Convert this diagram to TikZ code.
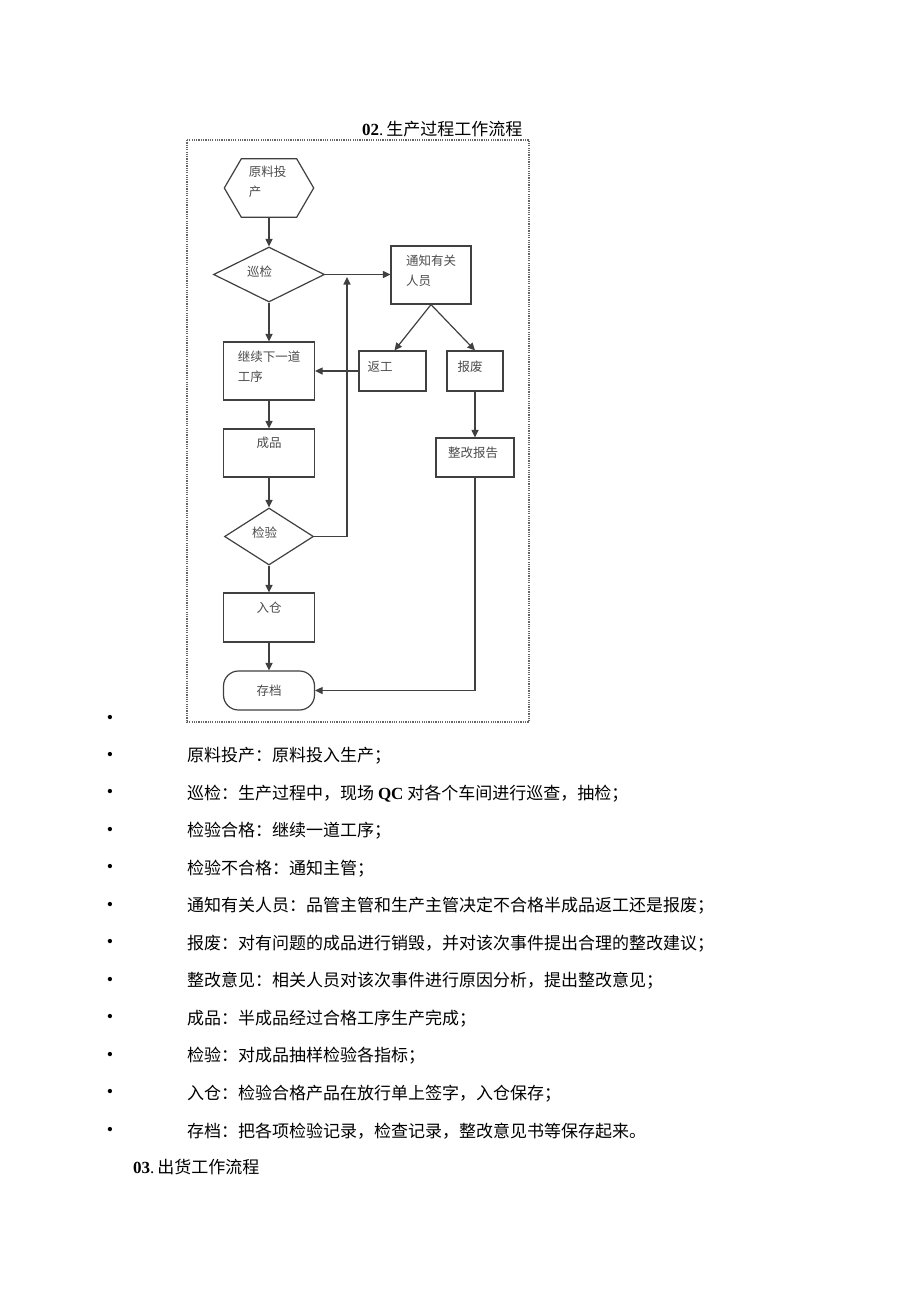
\documentclass[tikz,border=0pt]{standalone}
\usepackage{fontspec}
\setmainfont{Liberation Serif}
\newfontfamily\cjk{Noto Sans CJK SC}
\usetikzlibrary{arrows.meta,shapes.geometric}
\begin{document}
\begin{tikzpicture}[x=1pt,y=-1pt,
  flow/.style={draw=black!75, line width=1.2pt, inner sep=0pt},
  box/.style={flow, rectangle},
  dia/.style={flow, diamond},
  lbl/.style={font=\cjk\fontsize{12.5}{20}\selectfont, text=black!70, align=left, inner sep=0pt},
  conn/.style={draw=black!75, line width=1.2pt, -{Triangle[length=7.5pt,width=7pt]}},
  body/.style={font=\cjk\fontsize{17}{20}\selectfont, anchor=west, inner sep=0pt},
  bul/.style={font=\fontsize{18}{20}\selectfont, inner sep=0pt},
]
\fill[white] (0,0) rectangle (920,1301);
\useasboundingbox (0,0) rectangle (920,1301);

% title
\node[anchor=west, inner sep=0pt, font=\fontsize{17}{20}\selectfont] (title) at (362,129) {\textbf{02}.\,{\cjk 生产过程工作流程}};

% frame
\draw[draw=black!60, line width=2.4pt, dash pattern=on 1.2pt off 1.1pt] (187,140) rectangle (529,722);

% shapes
\node[minimum width=89pt, minimum height=58pt, inner sep=0pt,
      label={[lbl,xshift=-1.5pt,yshift=6pt]center:{原料投\\产}}] (yl) at (269,188) {};
\draw[flow] ([xshift=17pt]yl.north west) -- ([xshift=-17pt]yl.north east) -- (yl.east)
  -- ([xshift=-17pt]yl.south east) -- ([xshift=17pt]yl.south west) -- (yl.west) -- cycle;

\node[dia, minimum width=111pt, minimum height=55pt,
      label={[lbl,xshift=-9.5pt,yshift=2.5pt]center:巡检}] (xj) at (269,274.5) {};
\node[box, minimum width=80pt, minimum height=58pt,
      label={[lbl,xshift=0pt,yshift=4.5pt]center:{通知有关\\人员}}] (tz) at (431,275) {};
\node[box, minimum width=67pt, minimum height=40pt,
      label={[lbl,xshift=-12.5pt,yshift=4pt]center:返工}] (fg) at (392.5,371) {};
\node[box, minimum width=56pt, minimum height=40pt,
      label={[lbl,xshift=-5pt,yshift=4pt]center:报废}] (bf) at (475,371) {};
\node[box, minimum width=91pt, minimum height=58pt,
      label={[lbl,yshift=4pt]center:{继续下一道\\工序}}] (jx) at (269,371) {};
\node[box, minimum width=91pt, minimum height=48pt,
      label={[lbl,yshift=10pt]center:成品}] (cp) at (269,453) {};
\node[box, minimum width=78pt, minimum height=39pt,
      label={[lbl,xshift=-2pt,yshift=4.5pt]center:整改报告}] (zg) at (475,457.5) {};
\node[dia, minimum width=89pt, minimum height=57pt,
      label={[lbl,xshift=-4.5pt,yshift=3.5pt]center:检验}] (jy) at (269,536.5) {};
\node[box, minimum width=91pt, minimum height=49pt,
      label={[lbl,yshift=9.5pt]center:入仓}] (rc) at (269,617.5) {};
\node[box, rounded corners=15pt, minimum width=91pt, minimum height=39pt,
      label={[lbl]center:存档}] (cd) at (269,690.5) {};

% connectors
\coordinate (lp) at (347,277);
\draw[conn] (yl.south) -- (xj.north);
\draw[conn] (xj.east) -- (xj.east -| tz.west);
\draw[conn] (xj.south) -- (jx.north);
\draw[conn] (jx.south) -- (cp.north);
\draw[conn] (cp.south) -- (jy.north);
\draw[conn] (jy.south) -- (rc.north);
\draw[conn] (rc.south) -- (cd.north);
\draw[conn] (jy.east) -| (lp);
\draw[conn] (tz.south) -- ([xshift=2pt]fg.north);
\draw[conn] (tz.south) -- (bf.north);
\draw[conn] (fg.west) -- (fg.west -| jx.east);
\draw[conn] (bf.south) -- (zg.north);
\draw[conn] (zg.south) |- (cd.east);

% bullets and list
\node[bul] (b0) at (110,719) {•};
\node[bul] (b1) at (110,756) {•};
\node[body] (t1) at (187,756) {原料投产：原料投入生产；};
\node[bul] (b2) at (110,793.5) {•};
\node[body] (t2) at (187,793.5) {巡检：生产过程中，现场 {\rmfamily\bfseries QC} 对各个车间进行巡查，抽检；};
\node[bul] (b3) at (110,831) {•};
\node[body] (t3) at (187,831) {检验合格：继续一道工序；};
\node[bul] (b4) at (110,868.5) {•};
\node[body] (t4) at (187,868.5) {检验不合格：通知主管；};
\node[bul] (b5) at (110,906) {•};
\node[body] (t5) at (187,906) {通知有关人员：品管主管和生产主管决定不合格半成品返工还是报废；};
\node[bul] (b6) at (110,943.5) {•};
\node[body] (t6) at (187,943.5) {报废：对有问题的成品进行销毁，并对该次事件提出合理的整改建议；};
\node[bul] (b7) at (110,981) {•};
\node[body] (t7) at (187,981) {整改意见：相关人员对该次事件进行原因分析，提出整改意见；};
\node[bul] (b8) at (110,1018.5) {•};
\node[body] (t8) at (187,1018.5) {成品：半成品经过合格工序生产完成；};
\node[bul] (b9) at (110,1056) {•};
\node[body] (t9) at (187,1056) {检验：对成品抽样检验各指标；};
\node[bul] (b10) at (110,1093.5) {•};
\node[body] (t10) at (187,1093.5) {入仓：检验合格产品在放行单上签字，入仓保存；};
\node[bul] (b11) at (110,1131) {•};
\node[body] (t11) at (187,1131) {存档：把各项检验记录，检查记录，整改意见书等保存起来。};
\node[anchor=west, inner sep=0pt, font=\fontsize{17}{20}\selectfont] (t12) at (133,1167) {\textbf{03}.\,{\cjk 出货工作流程}};
\end{tikzpicture}
\end{document}
